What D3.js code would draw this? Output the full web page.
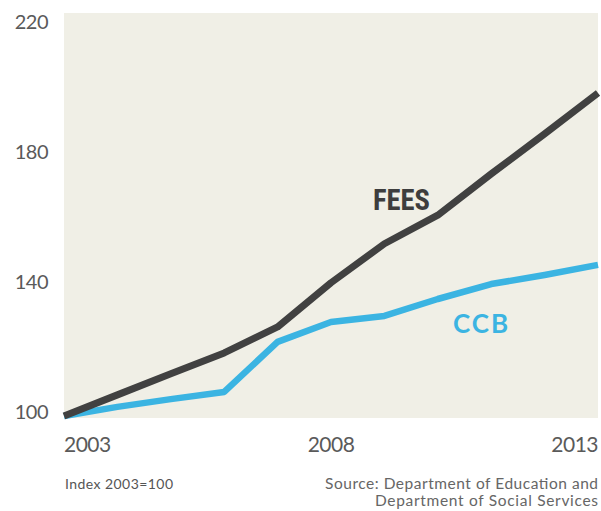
<!DOCTYPE html>
<html><head><meta charset="utf-8">
<script src="https://cdn.jsdelivr.net/npm/d3@7"></script>
<style>
html,body{margin:0;padding:0;background:#fff;}
svg{display:block;}
</style></head>
<body>
<svg id="chart" width="601" height="511"></svg>
<script>
const years = [2003,2004,2005,2006,2007,2008,2009,2010,2011,2012,2013];
const fees  = [100,106.5,113,119.4,127.4,141,153,161.8,174.5,186.8,199.4];
const ccb   = [100,102.8,105.2,107.4,122.8,128.9,130.8,136,140.6,143.4,146.5];
const yTicks = [100,140,180,220];
const xTicks = [2003,2008,2013];
const seriesNames = ["FEES","CCB"];

const svg = d3.select("#chart");
const pLeft = 64, pRight = 598, pTop = 13, pBottom = 418;
const x = d3.scaleLinear().domain([2003,2013]).range([pLeft,pRight]);
const y = d3.scaleLinear().domain([100,220]).range([416,26]);

svg.append("rect").attr("x",pLeft).attr("y",pTop).attr("width",pRight-pLeft).attr("height",pBottom-pTop)
  .attr("fill","#f0efe6");

const line = d3.line().x((d,i)=>x(years[i])).y(d=>y(d));

svg.append("path").datum(ccb).attr("d",line).attr("fill","none")
  .attr("stroke","#3bb4e2").attr("stroke-width",6.5).attr("stroke-linejoin","round");
svg.append("path").datum(fees).attr("d",line).attr("fill","none")
  .attr("stroke","#414141").attr("stroke-width",7).attr("stroke-linejoin","round");

const axisFont = "Lato, 'Open Sans', sans-serif";
svg.append("g").selectAll("text").data(yTicks).join("text")
  .attr("x",48).attr("y",d=>y(d)+3).attr("text-anchor","end")
  .attr("font-family",axisFont).attr("font-size",20).attr("fill","#5a5a5a")
  .attr("letter-spacing","-0.5")
  .text(d=>d);

svg.append("g").selectAll("text").data(xTicks).join("text")
  .attr("x",d=>x(d)).attr("y",452)
  .attr("text-anchor",(d,i)=>i===0?"start":(i===xTicks.length-1?"end":"middle"))
  .attr("font-family",axisFont).attr("font-size",21).attr("fill","#5a5a5a")
  .attr("letter-spacing","-0.5")
  .text(d=>d);

svg.append("text").attr("x",65).attr("y",489)
  .attr("font-family",axisFont).attr("font-size",14).attr("fill","#555")
  .attr("textLength",108).attr("lengthAdjust","spacing")
  .text("Index 2003=100");
svg.append("text").attr("x",325).attr("y",489)
  .attr("font-family",axisFont).attr("font-size",15.5).attr("fill","#666")
  .attr("textLength",273).attr("lengthAdjust","spacing")
  .text("Source: Department of Education and");
svg.append("text").attr("x",375).attr("y",506)
  .attr("font-family",axisFont).attr("font-size",15.5).attr("fill","#666")
  .attr("textLength",223).attr("lengthAdjust","spacing")
  .text("Department of Social Services");

svg.append("text").attr("x",373).attr("y",210)
  .attr("font-family","'Liberation Sans Narrow','Roboto Condensed',Roboto,sans-serif")
  .attr("font-weight","bold").attr("font-size",29).attr("fill","#3d3d3d")
  .attr("textLength",57).attr("lengthAdjust","spacingAndGlyphs")
  .text(seriesNames[0]);
svg.append("text").attr("x",453).attr("y",333)
  .attr("font-family",axisFont).attr("font-weight","bold").attr("font-size",26).attr("fill","#3bb4e2")
  .attr("letter-spacing","2")
  .text(seriesNames[1]);
</script>
</body></html>
